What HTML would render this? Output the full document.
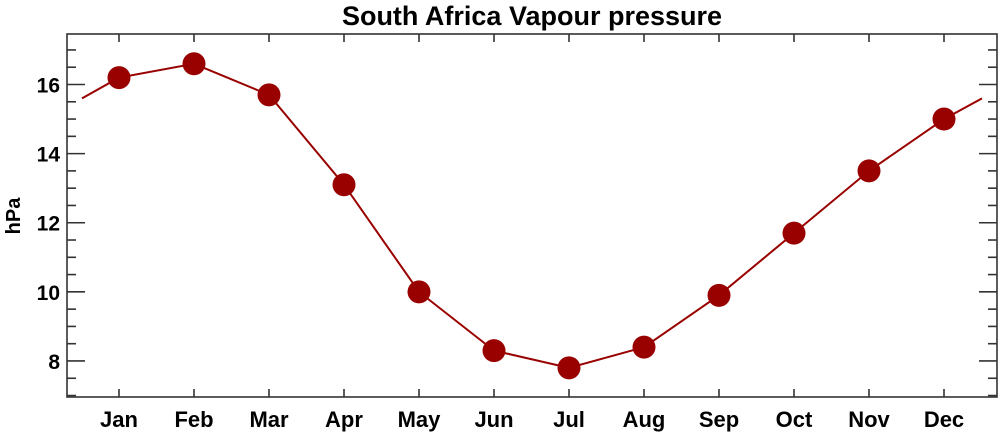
<!DOCTYPE html><html><head><style>body{margin:0;background:#fff}</style></head><body>
<svg width="1000" height="433" xmlns="http://www.w3.org/2000/svg" font-family="Liberation Sans, sans-serif" font-weight="bold">
<text x="532" y="25" font-size="27" text-anchor="middle">South Africa Vapour pressure</text>
<text transform="translate(20,216) rotate(-90)" font-size="20" text-anchor="middle">hPa</text>
<g id="ax" stroke="#333" stroke-width="1.6" fill="none">
<rect x="67" y="34" width="930" height="363"/>
</g>
<g stroke="#333" stroke-width="1.6" id="t"></g>
<g font-size="21" text-anchor="end" id="yl"></g>
<g font-size="22" text-anchor="middle" id="xl"></g>
<polyline id="ln" fill="none" stroke="#990000" stroke-width="2"/>
<g id="pts" fill="#990000"></g>
</svg>
<script>
var ns="http://www.w3.org/2000/svg";
function Y(v){return 84.5+(16-v)*34.56;}
function X(i){return 119+i*75;}
function el(p,n,a,tx){var e=document.createElementNS(ns,n);for(var k in a)e.setAttribute(k,a[k]);if(tx)e.textContent=tx;document.getElementById(p).appendChild(e);}
for(var v=7;v<=17.01;v+=0.5){var y=Y(v),maj=Math.abs(v%2)<0.01,l=maj?18:9;
el('t','line',{x1:67,x2:67+l,y1:y,y2:y});el('t','line',{x1:997,x2:997-l,y1:y,y2:y});
if(maj)el('yl','text',{x:60,y:y+8},String(v));}
var m=["Jan","Feb","Mar","Apr","May","Jun","Jul","Aug","Sep","Oct","Nov","Dec"];
var d=[16.2,16.6,15.7,13.1,10.0,8.3,7.8,8.4,9.9,11.7,13.5,15.0];
for(var i=0;i<12;i++){var x=X(i);el('t','line',{x1:x,x2:x,y1:397,y2:389});el('t','line',{x1:x,x2:x,y1:34,y2:42});
el('xl','text',{x:x,y:427},m[i]);}
var p=[[82,Y(15.6)]];for(i=0;i<12;i++)p.push([X(i),Y(d[i])]);p.push([982,Y(15.6)]);
document.getElementById('ln').setAttribute('points',p.map(function(q){return q.join(',')}).join(' '));
for(i=0;i<12;i++)el('pts','circle',{cx:X(i),cy:Y(d[i]),r:11.5});
</script>
</body></html>
